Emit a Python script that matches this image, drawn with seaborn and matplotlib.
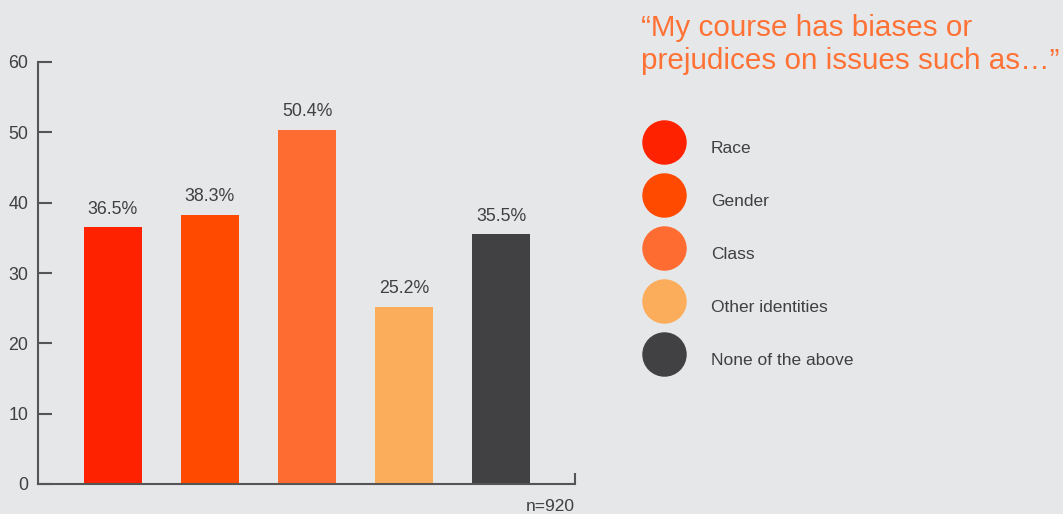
import matplotlib
matplotlib.use('Agg')
import matplotlib.pyplot as plt
from matplotlib.lines import Line2D
import seaborn as sns
import pandas as pd

# data
categories = ['Race', 'Gender', 'Class', 'Other identities', 'None of the above']
percentages = [36.5, 38.3, 50.4, 25.2, 35.5]
bar_colors = ['#ff2200', '#ff4a00', '#ff6c32', '#fcad5b', '#414042']
y_ticks = [0, 10, 20, 30, 40, 50, 60]
sample_note = 'n=920'
title_text = '\u201cMy course has biases or\nprejudices on issues such as\u2026\u201d'

BG = '#e6e7e9'
TEXT = '#404040'
AXIS = '#555555'
ORANGE = '#ff7236'

sns.set_style('white')
plt.rcParams['font.family'] = ['Liberation Sans', 'DejaVu Sans']
plt.rcParams['font.size'] = 12.5

df = pd.DataFrame({'category': categories, 'value': percentages})

fig = plt.figure(figsize=(10.63, 5.14), dpi=100, facecolor=BG)
ax = fig.add_axes([38 / 1063, 1 - 484 / 514, (575 - 38) / 1063, (484 - 62) / 514])
ax.set_facecolor(BG)

sns.barplot(data=df, x='category', y='value', hue='category',
            palette=bar_colors, width=0.6, legend=False, ax=ax,
            saturation=1, linewidth=0)

for cont in ax.containers:
    ax.bar_label(cont, fmt='%.1f%%', padding=7, fontsize=12.8, color=TEXT)

ax.set_ylim(0, 60)
ax.set_xlim(-0.77, 4.76)
ax.set_yticks(y_ticks)
ax.set_xticks([4.76])
ax.set_xticklabels([''])
ax.set_xlabel('')
ax.set_ylabel('')
ax.tick_params(axis='y', left=True, direction='in', length=10, width=1.5,
               color=AXIS, labelcolor=TEXT, labelsize=12.8, pad=7)
ax.tick_params(axis='x', bottom=True, direction='in', length=8, width=1.5,
               color=AXIS)
for side in ['top', 'right']:
    ax.spines[side].set_visible(False)
for side in ['left', 'bottom']:
    ax.spines[side].set_color(AXIS)
    ax.spines[side].set_linewidth(1.5)

ax.text(1.0, -0.035, sample_note, transform=ax.transAxes, ha='right', va='top',
        fontsize=12.5, color=TEXT)

# title on the right
fig.text(641 / 1063, 1 - 14 / 514, title_text, ha='left', va='top',
         fontsize=21.3, color=ORANGE, linespacing=1.24)

# legend with big circles
handles = [Line2D([0], [0], marker='o', linestyle='', markersize=31,
                  markerfacecolor=c, markeredgecolor=c) for c in bar_colors]
fig.legend(handles, categories, loc='upper left',
           bbox_to_anchor=(641.3 / 1063, 1 - 131 / 514),
           frameon=False, borderpad=0, borderaxespad=0, fontsize=12.5,
           handlelength=2.6, handleheight=2.6, handletextpad=1.4,
           labelspacing=1.12, labelcolor=TEXT)

plt.savefig('out.png', dpi=100, facecolor=BG)
plt.close()
